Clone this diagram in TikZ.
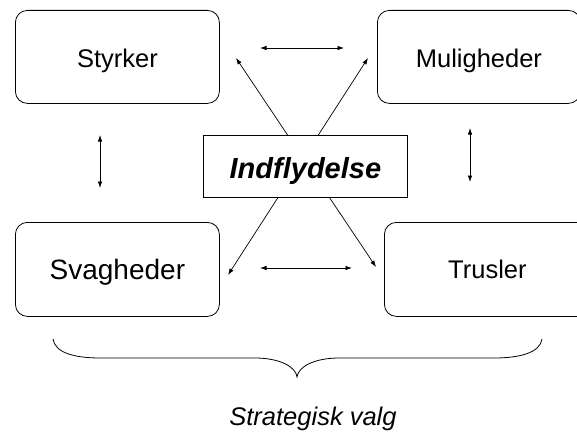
\documentclass[tikz,border=0pt]{standalone}
\usepackage{fontspec}
\setmainfont{Liberation Sans}
\usetikzlibrary{arrows.meta}
\begin{document}
\begin{tikzpicture}[x=1pt,y=-1pt,
  card/.style={draw, line width=0.8pt, rounded corners=12pt, inner sep=0pt,
    anchor=north west, text depth=0pt, font=\fontsize{25.5}{30}\selectfont},
  centrebox/.style={draw, line width=0.8pt, fill=white, inner sep=0pt,
    anchor=north west, minimum width=204pt, minimum height=62pt,
    text height=24pt, text depth=0pt,
    font=\fontsize{29}{34}\selectfont\bfseries\itshape},
  link/.style={line width=0.7pt,
    {Latex[length=6.5pt,width=4.5pt]}-{Latex[length=6.5pt,width=4.5pt]}},
  brace/.style={line width=0.8pt}]
\useasboundingbox (0,0) rectangle (577,433);
\clip (0,0) rectangle (577,433);

% the four corner boxes
\node[card, minimum width=204pt, minimum height=93pt, text height=21pt]
  (styrker) at (15,10) {Styrker};
\node[card, minimum width=203pt, minimum height=93pt, text height=21pt]
  (muligheder) at (377,10) {Muligheder};
\node[card, minimum width=204pt, minimum height=94pt, text height=20pt,
  font=\fontsize{28}{33}\selectfont]
  (svagheder) at (15,222) {Svagheder};
\node[card, minimum width=206pt, minimum height=94pt, text height=18pt]
  (trusler) at (384,222) {Trusler};

% arrow end points
\coordinate (tl) at (260,48);  \coordinate (tr) at (344,48);
\coordinate (bl) at (260,268); \coordinate (br) at (352,268);
\coordinate (lt) at (100,135); \coordinate (lb) at (100,188);
\coordinate (rt) at (470,128); \coordinate (rb) at (470,182);
\coordinate (d1a) at (368,58); \coordinate (d1b) at (228,275);
\coordinate (d2a) at (236,58); \coordinate (d2b) at (376,267);

% crossing diagonals behind the centre box
\draw[link] (d1a) -- (d1b);
\draw[link] (d2a) -- (d2b);

% horizontal and vertical links
\draw[link] (tl) -- (tr);
\draw[link] (bl) -- (br);
\draw[link] (lt) -- (lb);
\draw[link] (rt) -- (rb);

% centre box
\node[centrebox] (indflydelse) at (203,135) {Indflydelse};

% brace under the boxes
\coordinate (bracel) at (53,339);
\coordinate (bracer) at (542,339);
\coordinate (bracetip) at (297,377);
\draw[brace] (bracel) .. controls (55,353) and (75,358) .. (100,358)
  -- (255,358) .. controls (280,358) and (296,367) .. (bracetip)
  .. controls (298,367) and (314,358) .. (339,358)
  -- (494,358) .. controls (519,358) and (540,353) .. (bracer);

% caption
\node[anchor=base, inner sep=0pt, font=\fontsize{25.5}{30}\selectfont\itshape]
  (valg) at (313,425) {Strategisk valg};
\end{tikzpicture}
\end{document}
